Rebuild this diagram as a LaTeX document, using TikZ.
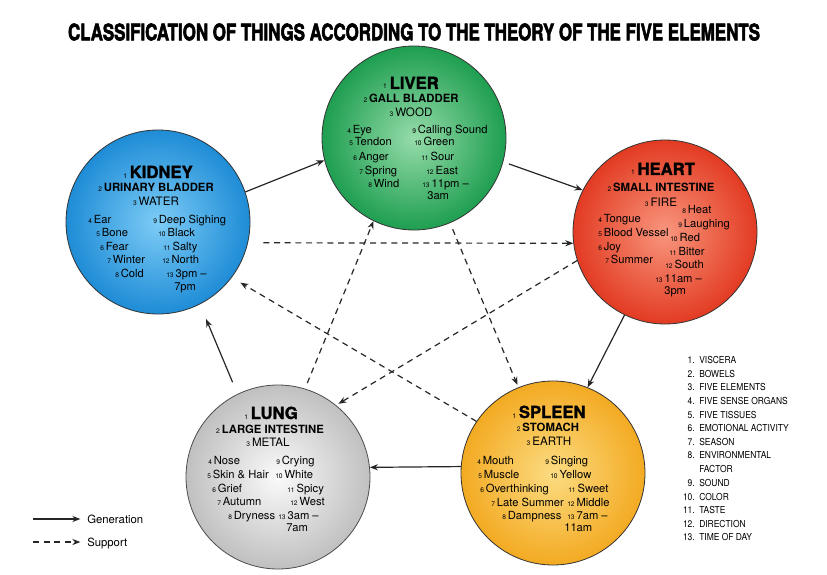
\documentclass[tikz,border=0pt]{standalone}
\usepackage{fontspec}
\usepackage{graphicx}
\setmainfont{TeX Gyre Heros}
\newfontfamily\heavyfont{TeX Gyre Heros}[FakeBold=1.6]
\newfontfamily\titlefont{TeX Gyre Heros}[FakeBold=3]
\newfontfamily\narrowfont{TeX Gyre Heros}[FakeStretch=0.88]
\usetikzlibrary{arrows.meta}
\definecolor{kidin}{RGB}{125,204,246}
\definecolor{kidout}{RGB}{30,140,214}
\definecolor{livin}{RGB}{150,220,170}
\definecolor{livout}{RGB}{30,158,80}
\definecolor{hrtin}{RGB}{248,150,125}
\definecolor{hrtout}{RGB}{226,59,34}
\definecolor{lngin}{RGB}{250,250,250}
\definecolor{lngout}{RGB}{192,192,192}
\definecolor{splin}{RGB}{252,220,130}
\definecolor{splout}{RGB}{243,170,34}
\newcommand\nr[1]{{\normalfont\fontsize{5}{6}\selectfont #1}\,}
\tikzset{
  organ/.style={circle,draw=black!80,line width=0.6pt,minimum size=138pt,inner sep=0pt,shade,shading=radial},
  head/.style={font=\heavyfont\bfseries\fontsize{12.5}{14}\selectfont,inner sep=0pt,text height=9pt,text depth=0pt},
  sub/.style={font=\bfseries\fontsize{8.5}{10}\selectfont,inner sep=0pt,text height=6.1pt,text depth=0pt},
  elem/.style={font=\fontsize{8.7}{10}\selectfont,inner sep=0pt,text height=6.2pt,text depth=0pt},
  item/.style={font=\fontsize{8.4}{10}\selectfont,inner sep=0pt,text height=6pt,text depth=0pt,anchor=west},
  keytxt/.style={font=\narrowfont\fontsize{7.2}{9}\selectfont,inner sep=0pt,text height=5.2pt,text depth=0pt},
  legtxt/.style={font=\fontsize{8.5}{10}\selectfont,inner sep=0pt,text height=6.1pt,text depth=0pt,anchor=west},
  gen/.style={-{Stealth[length=6pt,width=4.6pt]},line width=0.9pt,black!85},
  sup/.style={gen,dash pattern=on 4.5pt off 3.5pt},
}
\begin{document}
\begin{tikzpicture}[x=0.75pt,y=-0.75pt]
  \useasboundingbox (0,0) rectangle (827,574);
  % title
  \node[inner sep=0pt] (title) at (414,32) {\resizebox{519pt}{12.6pt}{\titlefont\bfseries CLASSIFICATION OF THINGS ACCORDING TO THE THEORY OF THE FIVE ELEMENTS}};
  % the five organs
  \node[organ,inner color=kidin,outer color=kidout] (kidney) at (158,222) {};
  \node[organ,inner color=livin,outer color=livout] (liver) at (414,138) {};
  \node[organ,inner color=hrtin,outer color=hrtout] (heart) at (665,232) {};
  \node[organ,inner color=lngin,outer color=lngout,draw=black!70] (lung) at (278,477) {};
  \node[organ,inner color=splin,outer color=splout] (spleen) at (553,473) {};
  % kidney
  \node[head] (khead) at (158,172) {\nr{1}KIDNEY};
  \node[sub] (ksub) at (156,187) {\nr{2}URINARY BLADDER};
  \node[elem] (kelem) at (156,201) {\nr{3}WATER};
  \foreach \t/\x/\y [count=\i] in {\nr{4}Ear/88/219, \nr{5}Bone/96/232, \nr{6}Fear/100/246, \nr{7}Winter/107/259, \nr{8}Cold/115/273,
      \nr{9}Deep Sighing/153/219, \nr{10}Black/158/232, \nr{11}Salty/163/246, \nr{12}North/162/259, \nr{13}3pm –/166/273, 7pm/174/286}
    \node[item] (k\i) at (\x,\y) {\t};
  % liver
  \node[head] (lhead) at (411,83) {\nr{1}LIVER};
  \node[sub] (lsub) at (411,98) {\nr{2}GALL BLADDER};
  \node[elem] (lelem) at (411,112) {\nr{3}WOOD};
  \foreach \t/\x/\y [count=\i] in {\nr{4}Eye/347/129, \nr{5}Tendon/349/142, \nr{6}Anger/353/157, \nr{7}Spring/359/170, \nr{8}Wind/368/183,
      \nr{9}Calling Sound/412/129, \nr{10}Green/414/142, \nr{11}Sour/421/157, \nr{12}East/426/170, \nr{13}11pm –/422/183, 3am/427/195}
    \node[item] (l\i) at (\x,\y) {\t};
  % heart
  \node[head] (hhead) at (663,169) {\nr{1}HEART};
  \node[sub] (hsub) at (661,187) {\nr{2}SMALL INTESTINE};
  \node[elem] (helem) at (661,202) {\nr{3}FIRE};
  \foreach \t/\x/\y [count=\i] in {\nr{4}Tongue/598/218, \nr{5}Blood Vessel/598/232, \nr{6}Joy/598/246, \nr{7}Summer/605/259,
      \nr{8}Heat/682/209, \nr{9}Laughing/678/223, \nr{10}Red/670/237, \nr{11}Bitter/669/251, \nr{12}South/665/264, \nr{13}11am –/655/278, 3pm/664/290}
    \node[item] (h\i) at (\x,\y) {\t};
  % lung
  \node[head] (uhead) at (271,413) {\nr{1}LUNG};
  \node[sub] (usub) at (270,429) {\nr{2}LARGE INTESTINE};
  \node[elem] (uelem) at (268,442) {\nr{3}METAL};
  \foreach \t/\x/\y [count=\i] in {\nr{4}Nose/208/460, \nr{5}Skin \& Hair/207/474, \nr{6}Grief/212/488, \nr{7}Autumn/217/501, \nr{8}Dryness/228/515,
      \nr{9}Crying/276/460, \nr{10}White/275/474, \nr{11}Spicy/287/488, \nr{12}West/290/501, \nr{13}3am –/278/515, 7am/286/527}
    \node[item] (u\i) at (\x,\y) {\t};
  % spleen
  \node[head] (shead) at (549,412) {\nr{1}SPLEEN};
  \node[sub] (ssub) at (548,427) {\nr{2}STOMACH};
  \node[elem] (selem) at (549,441) {\nr{3}EARTH};
  \foreach \t/\x/\y [count=\i] in {\nr{4}Mouth/477/460, \nr{5}Muscle/478/474, \nr{6}Overthinking/480/488, \nr{7}Late Summer/491/502, \nr{8}Dampness/502/515,
      \nr{9}Singing/545/460, \nr{10}Yellow/550/474, \nr{11}Sweet/568/488, \nr{12}Middle/567/502, \nr{13}7am –/567/515, 11am/564/527}
    \node[item] (s\i) at (\x,\y) {\t};
  % generation
  \draw[gen] (kidney.19) -- (liver.194);
  \draw[gen,shorten <=4.5pt] (liver.345) -- (heart.153);
  \draw[gen] (heart.244) -- (spleen.68);
  \draw[gen] (spleen.176) -- (lung.6);
  \draw[gen,shorten <=9.5pt,shorten >=12pt] (lung.116) -- (kidney.297);
  % support
  \draw[sup,shorten <=11.5pt] (kidney.347) -- (heart.187);
  \draw[sup,shorten <=5pt,shorten >=2pt] (liver.293) -- (spleen.112);
  \draw[sup,shorten >=2pt] (heart.198) -- (lung.51);
  \draw[sup,shorten >=7.5pt] (spleen.146) -- (kidney.323);
  \draw[sup,shorten <=4.5pt] (lung.73) -- (liver.244);
  % key
  \foreach \k/\t/\y in {1/VISCERA/360, 2/BOWELS/374, 3/FIVE ELEMENTS/387, 4/FIVE SENSE ORGANS/401, 5/FIVE TISSUES/415,
      6/EMOTIONAL ACTIVITY/428, 7/SEASON/442, 8/ENVIRONMENTAL/455, 9/SOUND/483, 10/COLOR/497, 11/TASTE/510, 12/DIRECTION/524, 13/TIME OF DAY/537} {
    \node[keytxt,anchor=east] (kn\k) at (695,\y) {\k.};
    \node[keytxt,anchor=west] (kt\k) at (699,\y) {\t};
  }
  \node[keytxt,anchor=west] (kfactor) at (699,469) {FACTOR};
  % legend
  \coordinate (g0) at (33,519);
  \node[legtxt] (gtxt) at (87,519) {Generation};
  \draw[gen,shorten >=5pt] (g0) -- (gtxt.west);
  \coordinate (s0) at (33,542);
  \node[legtxt] (stxt) at (87,542) {Support};
  \draw[sup,shorten >=5pt] (s0) -- (stxt.west);
\end{tikzpicture}
\end{document}
